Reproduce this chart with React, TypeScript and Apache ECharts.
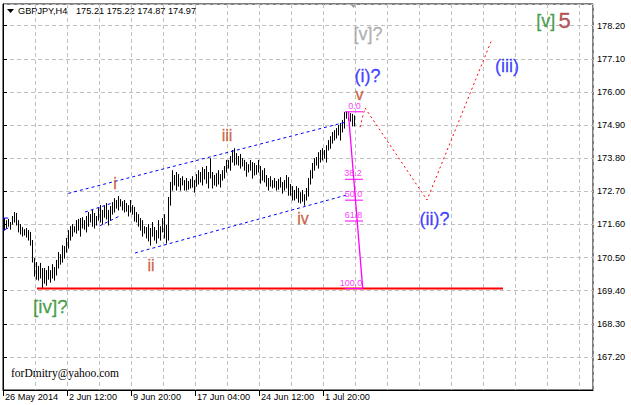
import React, { useEffect, useRef } from 'react';
import * as echarts from 'echarts';

// ---- price bars (H4), high and low per bar ----
const highs = [
  171.81, 171.74, 171.78, 171.68, 171.88, 172.01, 171.98, 171.74, 171.61, 171.51,
  171.44, 171.48, 171.41, 171.35, 171.08, 170.48, 170.35, 170.22, 170.32, 170.15,
  170.15, 170.08, 170.22, 170.08, 170.28, 170.18, 170.42, 170.68, 170.61, 170.91,
  170.88, 171.15, 171.41, 171.54, 171.61, 171.54, 171.74, 171.78, 171.81, 171.84,
  171.74, 171.88, 172.01, 171.94, 172.08, 171.98, 171.88, 172.14, 172.24, 172.08,
  172.21, 172.31, 172.08, 172.21, 172.34, 172.47, 172.41, 172.54, 172.44, 172.37,
  172.41, 172.31, 172.24, 172.41, 172.24, 172.18, 172.01, 171.94, 171.81, 171.74,
  171.54, 171.51, 171.61, 171.48, 171.68, 171.51, 171.41, 171.74, 171.54, 171.81,
  171.94, 171.58, 172.51, 173.01, 173.40, 173.24, 173.34, 173.27, 173.14, 173.20,
  173.07, 173.14, 173.04, 173.11, 173.20, 173.07, 173.27, 173.40, 173.34, 173.50,
  173.44, 173.54, 173.34, 173.80, 173.34, 173.24, 173.30, 173.40, 173.27, 173.40,
  173.54, 173.74, 173.74, 173.87, 174.07, 174.13, 173.97, 173.87, 173.94, 173.80,
  173.74, 173.67, 173.60, 173.74, 173.67, 173.64, 173.57, 173.74, 173.54, 173.40,
  173.47, 173.24, 173.14, 173.20, 173.07, 173.14, 173.04, 173.11, 173.17, 173.01,
  173.07, 173.24, 173.17, 172.94, 172.87, 172.74, 172.87, 172.81, 172.67, 172.74,
  172.60, 172.81, 173.14, 173.40, 173.64, 173.80, 173.84, 174.00, 174.07, 174.13,
  174.07, 174.23, 174.40, 174.53, 174.67, 174.73, 174.80, 174.90, 174.97, 175.07,
  175.33, 175.34, 175.33, 175.30, 175.27, 175.22,
];
const lows = [
  171.41, 171.48, 171.54, 171.44, 171.61, 171.68, 171.58, 171.35, 171.28, 171.21,
  171.25, 171.18, 171.08, 170.91, 170.35, 169.88, 169.78, 169.75, 169.82, 169.47,
  169.65, 169.58, 169.78, 169.68, 169.82, 169.75, 169.92, 170.15, 170.28, 170.35,
  170.48, 170.68, 170.81, 171.08, 171.21, 171.35, 171.31, 171.41, 171.21, 171.48,
  171.44, 171.35, 171.54, 171.68, 171.54, 171.48, 171.58, 171.74, 171.68, 171.61,
  171.84, 171.78, 171.58, 171.74, 171.94, 172.01, 172.14, 172.08, 172.21, 172.08,
  172.01, 172.04, 171.88, 172.01, 171.94, 171.71, 171.68, 171.54, 171.41, 171.21,
  171.31, 171.15, 171.05, 170.91, 171.21, 171.08, 170.98, 171.15, 171.08, 171.35,
  171.15, 170.98, 171.08, 172.24, 172.74, 172.91, 172.74, 172.87, 172.74, 172.91,
  172.74, 172.74, 172.77, 172.81, 172.84, 172.67, 172.87, 172.94, 173.01, 172.91,
  173.11, 172.97, 172.81, 173.14, 172.81, 172.91, 172.87, 172.94, 172.84, 173.07,
  173.14, 173.34, 173.47, 173.40, 173.67, 173.57, 173.60, 173.57, 173.47, 173.54,
  173.40, 173.20, 173.34, 173.40, 173.14, 173.24, 173.27, 173.34, 172.97, 173.07,
  173.01, 172.87, 172.74, 172.87, 172.81, 172.84, 172.74, 172.77, 172.84, 172.64,
  172.74, 172.81, 172.57, 172.57, 172.41, 172.41, 172.47, 172.34, 172.31, 172.37,
  172.24, 172.41, 172.54, 172.94, 173.14, 173.40, 173.57, 173.47, 173.67, 173.74,
  173.80, 173.67, 174.07, 174.13, 174.30, 174.40, 174.47, 174.57, 174.40, 174.67,
  174.80, 175.13, 175.07, 175.03, 174.87, 174.87,
];

// ---- time axis labels (bar index -> text) ----
const xTickIndex = [0, 32, 64, 96, 128, 160];
const xTickText = ['26 May 2014', '2 Jun 12:00', '9 Jun 20:00', '17 Jun 04:00', '24 Jun 12:00', '1 Jul 20:00'];

// ---- header ----
const headerSymbol = 'GBPJPY,H4';
const headerQuote = '175.21 175.22 174.87 174.97';
const watermark = 'forDmitry@yahoo.com';

// ---- drawn objects (bar index, price) ----
const supportLine = [[17, 169.47], [250, 169.47]];
const channelUpper = [[32.65, 172.63], [171.5, 175.0]];
const channelLower = [[66, 170.65], [171.5, 172.57]];
const smallUpper = [[41, 172.01], [55.15, 172.32]];
const smallLower = [[48.25, 171.55], [57.75, 171.86]];
const edgeUpper = [[0, 171.81], [2.6, 171.81]];
const edgeLower = [[0, 171.40], [2.6, 171.48]];
const forecast = [[178.5, 174.83], [181, 175.47], [212, 172.41], [244, 177.67]];

// ---- fibonacci retracement ----
const fibHigh = 175.34;
const fibLow = 169.47;
const fibFrom = [172.65, 179.85];
const fibSpan = [171, 180];
const fibLevels = [0, 38.2, 50, 61.8, 100];
const fibLabels = ['0.0', '38.2', '50.0', '61.8', '100.0'];
const fibLabelX = [175.75, 175, 175.25, 175.25, 174];

// ---- wave labels ----
const waveText = ['[v]?', '(i)?', 'v', '(iii)', '(ii)?', '[iv]?', 'i', 'ii', 'iii', 'iv'];
const waveX = [182.5, 182.25, 178.25, 252, 215.75, 23.75, 56, 74, 112, 150];
const waveY = [177.92, 176.53, 175.93, 176.86, 171.79, 168.86, 172.97, 170.25, 174.55, 171.78];
const waveColor = ['#a0a0a0', '#1515ff', '#bf4420', '#1515ff', '#1515ff', '#228b22', '#bf4420', '#bf4420', '#bf4420', '#bf4420'];
const waveSize = [18, 18, 16, 18, 18, 19, 16, 16, 16, 16];
const degreeLabel = { x: 275.25, y: 178.37 };

const FONT = 'Liberation Sans';

export default function App() {
  const ref = useRef<HTMLDivElement>(null);

  useEffect(() => {
    if (!ref.current) return;
    const chart = echarts.init(ref.current, undefined, { renderer: 'svg' });

    const seg = (data: number[][], color: string, width: number, type: any, z = 4) => ({
      type: 'line',
      data,
      symbol: 'none',
      silent: true,
      z,
      lineStyle: { color, width, type },
    });

    const fibPrice = (lvl: number) => fibHigh - ((fibHigh - fibLow) * lvl) / 100;

    const series: any[] = [
      {
        type: 'custom',
        data: highs.map((h, i) => [i + 0.5, h, lows[i]]),
        encode: { x: 0, y: [1, 2] },
        silent: true,
        z: 3,
        renderItem: (_p: any, api: any) => {
          const top = api.coord([api.value(0), api.value(1)]);
          const bot = api.coord([api.value(0), api.value(2)]);
          const x = Math.floor(top[0]) + 0.5;
          return {
            type: 'line',
            shape: { x1: x, y1: top[1], x2: x, y2: bot[1] + 0.5 },
            style: { stroke: '#000', lineWidth: 1 },
          };
        },
      },
      seg(supportLine, '#ff0000', 2, 'solid', 5),
      seg(channelUpper, '#0000ff', 1, [3, 3]),
      seg(channelLower, '#0000ff', 1, [3, 3]),
      seg(smallUpper, '#0000ff', 1, [3, 3]),
      seg(smallLower, '#0000ff', 1, [3, 3]),
      seg(edgeUpper, '#0000ff', 1, 'solid'),
      seg(edgeLower, '#0000ff', 1, 'solid'),
      seg(forecast, '#ff0000', 1, [2, 3]),
      seg([[fibFrom[0], fibHigh], [fibFrom[1], fibLow]], '#ff00ff', 1.3, 'solid', 6),
      ...fibLevels.map((l) => seg([[fibSpan[0], fibPrice(l)], [fibSpan[1], fibPrice(l)]], '#ff00ff', 1, 'solid', 6)),
      {
        type: 'scatter',
        symbolSize: 1,
        itemStyle: { color: 'transparent' },
        silent: true,
        z: 7,
        data: fibLevels.map((l, i) => ({
          value: [fibLabelX[i], fibPrice(l)],
          label: {
            show: true,
            position: 'top',
            distance: 1,
            formatter: fibLabels[i],
            color: '#ff00ff',
            fontSize: 9,
            fontFamily: FONT,
          },
        })),
      },
      {
        type: 'scatter',
        symbolSize: 1,
        itemStyle: { color: 'transparent' },
        silent: true,
        z: 8,
        data: [
          ...waveText.map((t, i) => ({
            value: [waveX[i], waveY[i]],
            label: {
              show: true,
              position: 'inside',
              formatter: t,
              color: waveColor[i],
              fontSize: waveSize[i],
              fontFamily: FONT,
              textBorderColor: waveColor[i],
              textBorderWidth: 0.3,
            },
          })),
          {
            value: [degreeLabel.x, degreeLabel.y],
            label: {
              show: true,
              position: 'inside',
              formatter: '{g|[v]} {r|5}',
              rich: {
                g: { color: '#228b22', fontSize: 18, fontFamily: FONT, textBorderColor: '#228b22', textBorderWidth: 0.3 },
                r: { color: '#a52a2a', fontSize: 22, fontFamily: FONT, textBorderColor: '#a52a2a', textBorderWidth: 0.3 },
              },
            },
          },
        ],
      },
    ];

    const axisFont = { color: '#000', fontSize: 9.2, fontFamily: FONT };

    chart.setOption({
      animation: false,
      backgroundColor: '#fff',
      grid: {
        left: 3,
        right: 38,
        top: 4,
        bottom: 15,
        show: true,
        borderColor: '#000',
        borderWidth: 1,
        containLabel: false,
        outerBoundsMode: 'none',
      },
      xAxis: [
        {
          type: 'value',
          min: 0,
          max: 295,
          interval: 16,
          position: 'bottom',
          axisLine: { show: true, lineStyle: { color: '#000' } },
          axisTick: { show: false },
          axisLabel: { show: false },
          splitLine: { show: true, lineStyle: { color: '#c0c0c0', type: [4, 3] } },
        },
        {
          type: 'value',
          min: 0,
          max: 295,
          interval: 32,
          position: 'bottom',
          axisLine: { show: false },
          axisTick: { show: true, length: 6, customValues: xTickIndex, lineStyle: { color: '#000' } },
          axisLabel: {
            ...axisFont,
            customValues: xTickIndex,
            align: 'left',
            margin: 2,
            padding: [0, 0, 0, 2],
            showMinLabel: true,
            showMaxLabel: true,
            hideOverlap: false,
            formatter: (v: number) => {
              const k = xTickIndex.indexOf(Math.round(v));
              return k >= 0 ? xTickText[k] : '';
            },
          },
          splitLine: { show: false },
        },
      ],
      yAxis: {
        type: 'value',
        position: 'right',
        min: 166.1,
        max: 178.92,
        interval: 1.1,
        axisLine: { show: true, lineStyle: { color: '#000' } },
        axisTick: { show: true, length: 4, lineStyle: { color: '#000' } },
        axisLabel: {
          ...axisFont,
          margin: 4,
          showMinLabel: false,
          showMaxLabel: false,
          formatter: (v: number) => v.toFixed(2),
        },
        splitLine: { show: true, lineStyle: { color: '#c0c0c0', type: [4, 3] } },
      },
      graphic: [
        { type: 'polygon', shape: { points: [[7, 9], [14, 9], [10.5, 13]] }, style: { fill: '#000' } },
        {
          type: 'text',
          x: 18,
          y: 11,
          style: { text: headerSymbol, font: `9.2px "${FONT}"`, fill: '#000', verticalAlign: 'middle' },
        },
        {
          type: 'text',
          x: 76,
          y: 11,
          style: { text: headerQuote, font: `9.2px "${FONT}"`, fill: '#000', verticalAlign: 'middle' },
        },
        { type: 'polygon', shape: { points: [[350, 4], [357, 4], [353.5, 8]] }, style: { fill: '#a0a0a0' } },
        {
          type: 'text',
          x: 11,
          y: 373,
          style: { text: watermark, font: '11.5px "Liberation Serif"', fill: '#000', verticalAlign: 'middle' },
        },
      ],
      series,
    });

    return () => chart.dispose();
  }, []);

  return <div ref={ref} style={{ width: 631, height: 405, position: 'absolute', left: 0, top: 0 }} />;
}
